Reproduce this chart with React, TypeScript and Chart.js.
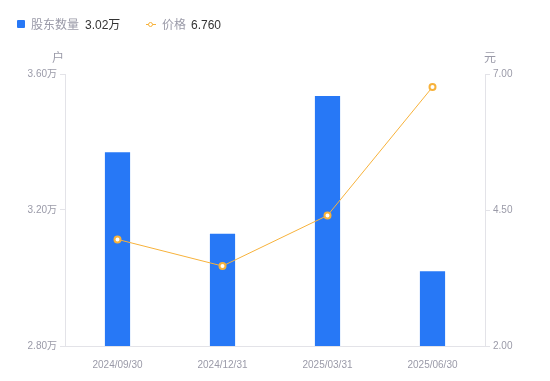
import React, { useEffect, useRef } from "react";
import { Chart, registerables } from "chart.js";

Chart.register(...registerables);

const categories = ["2024/09/30", "2024/12/31", "2025/03/31", "2025/06/30"];
const holders = [3.37, 3.13, 3.535, 3.02]; // 万户
const prices = [3.96, 3.47, 4.40, 6.76];
const leftTicks = [2.8, 3.2, 3.6];
const rightTicks = [2.0, 4.5, 7.0];

const FONT = '"Liberation Sans", "Noto Sans CJK SC", sans-serif';
const BLUE = "#2778f6";
const ORANGE = "#f7b23b";
const GRAY = "#9a9aa8";
const AXIS = "#e3e3e8";

export default function App() {
  const ref = useRef<HTMLCanvasElement>(null);
  useEffect(() => {
    const chart = new Chart(ref.current!, {
      data: {
        labels: categories,
        datasets: [
          {
            type: "bar",
            label: "股东数量",
            data: holders,
            backgroundColor: BLUE,
            yAxisID: "y",
            barPercentage: 0.24,
            categoryPercentage: 1,
            order: 2,
          },
          {
            type: "line",
            label: "价格",
            data: prices,
            borderColor: ORANGE,
            borderWidth: 1,
            pointBackgroundColor: "#fff",
            pointBorderColor: ORANGE,
            pointBorderWidth: 2,
            pointRadius: 3,
            yAxisID: "y1",
            order: 1,
          },
        ],
      },
      options: {
        responsive: false,
        animation: false,
        layout: { padding: { top: 74, left: 0, right: 0, bottom: 0 } },
        plugins: { legend: { display: false }, tooltip: { enabled: false } },
        scales: {
          x: {
            grid: { display: false },
            border: { display: true, color: AXIS },
            ticks: { color: GRAY, font: { family: FONT, size: 10 }, padding: 5, maxRotation: 0 },
            afterFit: (s: any) => { s.height = 35; },
          },
          y: {
            position: "left",
            min: 2.8,
            max: 3.6,
            afterBuildTicks: (s: any) => { s.ticks = leftTicks.map((v) => ({ value: v })); },
            grid: { drawOnChartArea: false, color: AXIS, tickLength: 5 },
            border: { color: AXIS },
            ticks: {
              color: GRAY,
              font: { family: FONT, size: 10 },
              padding: 3,
              callback: (v: any) => Number(v).toFixed(2) + "万",
            },
            afterFit: (s: any) => { s.width = 65; },
          },
          y1: {
            position: "right",
            min: 2,
            max: 7,
            afterBuildTicks: (s: any) => { s.ticks = rightTicks.map((v) => ({ value: v })); },
            grid: { drawOnChartArea: false, color: AXIS, tickLength: 5 },
            border: { color: AXIS },
            ticks: {
              color: GRAY,
              font: { family: FONT, size: 10 },
              padding: 3,
              callback: (v: any) => Number(v).toFixed(2),
            },
            afterFit: (s: any) => { s.width = 65; },
          },
        },
      },
    } as any);
    return () => chart.destroy();
  }, []);

  const txt = (extra: React.CSSProperties): React.CSSProperties => ({
    position: "absolute",
    fontFamily: FONT,
    fontSize: 12,
    lineHeight: "16px",
    whiteSpace: "nowrap",
    ...extra,
  });

  return (
    <div style={{ position: "absolute", left: 0, top: 0, width: 550, height: 381, background: "#fff" }}>
      <canvas ref={ref} width={550} height={381} style={{ position: "absolute", left: 0, top: 0 }} />
      <div style={{ position: "absolute", left: 17, top: 20, width: 8, height: 8, background: BLUE, borderRadius: 1 }} />
      <span style={txt({ left: 31, top: 17, color: GRAY })}>股东数量</span>
      <span style={txt({ left: 85, top: 17, color: "#333" })}>3.02万</span>
      <div style={{ position: "absolute", left: 146, top: 23.5, width: 10, height: 1.5, background: ORANGE }} />
      <div style={{ position: "absolute", left: 148, top: 21.5, width: 3, height: 3, border: `1.5px solid ${ORANGE}`, borderRadius: "50%", background: "#fff" }} />
      <span style={txt({ left: 162, top: 17, color: GRAY })}>价格</span>
      <span style={txt({ left: 191, top: 17, color: "#333" })}>6.760</span>
      <span style={txt({ left: 52, top: 50, color: GRAY })}>户</span>
      <span style={txt({ left: 484, top: 50, color: GRAY })}>元</span>
    </div>
  );
}
